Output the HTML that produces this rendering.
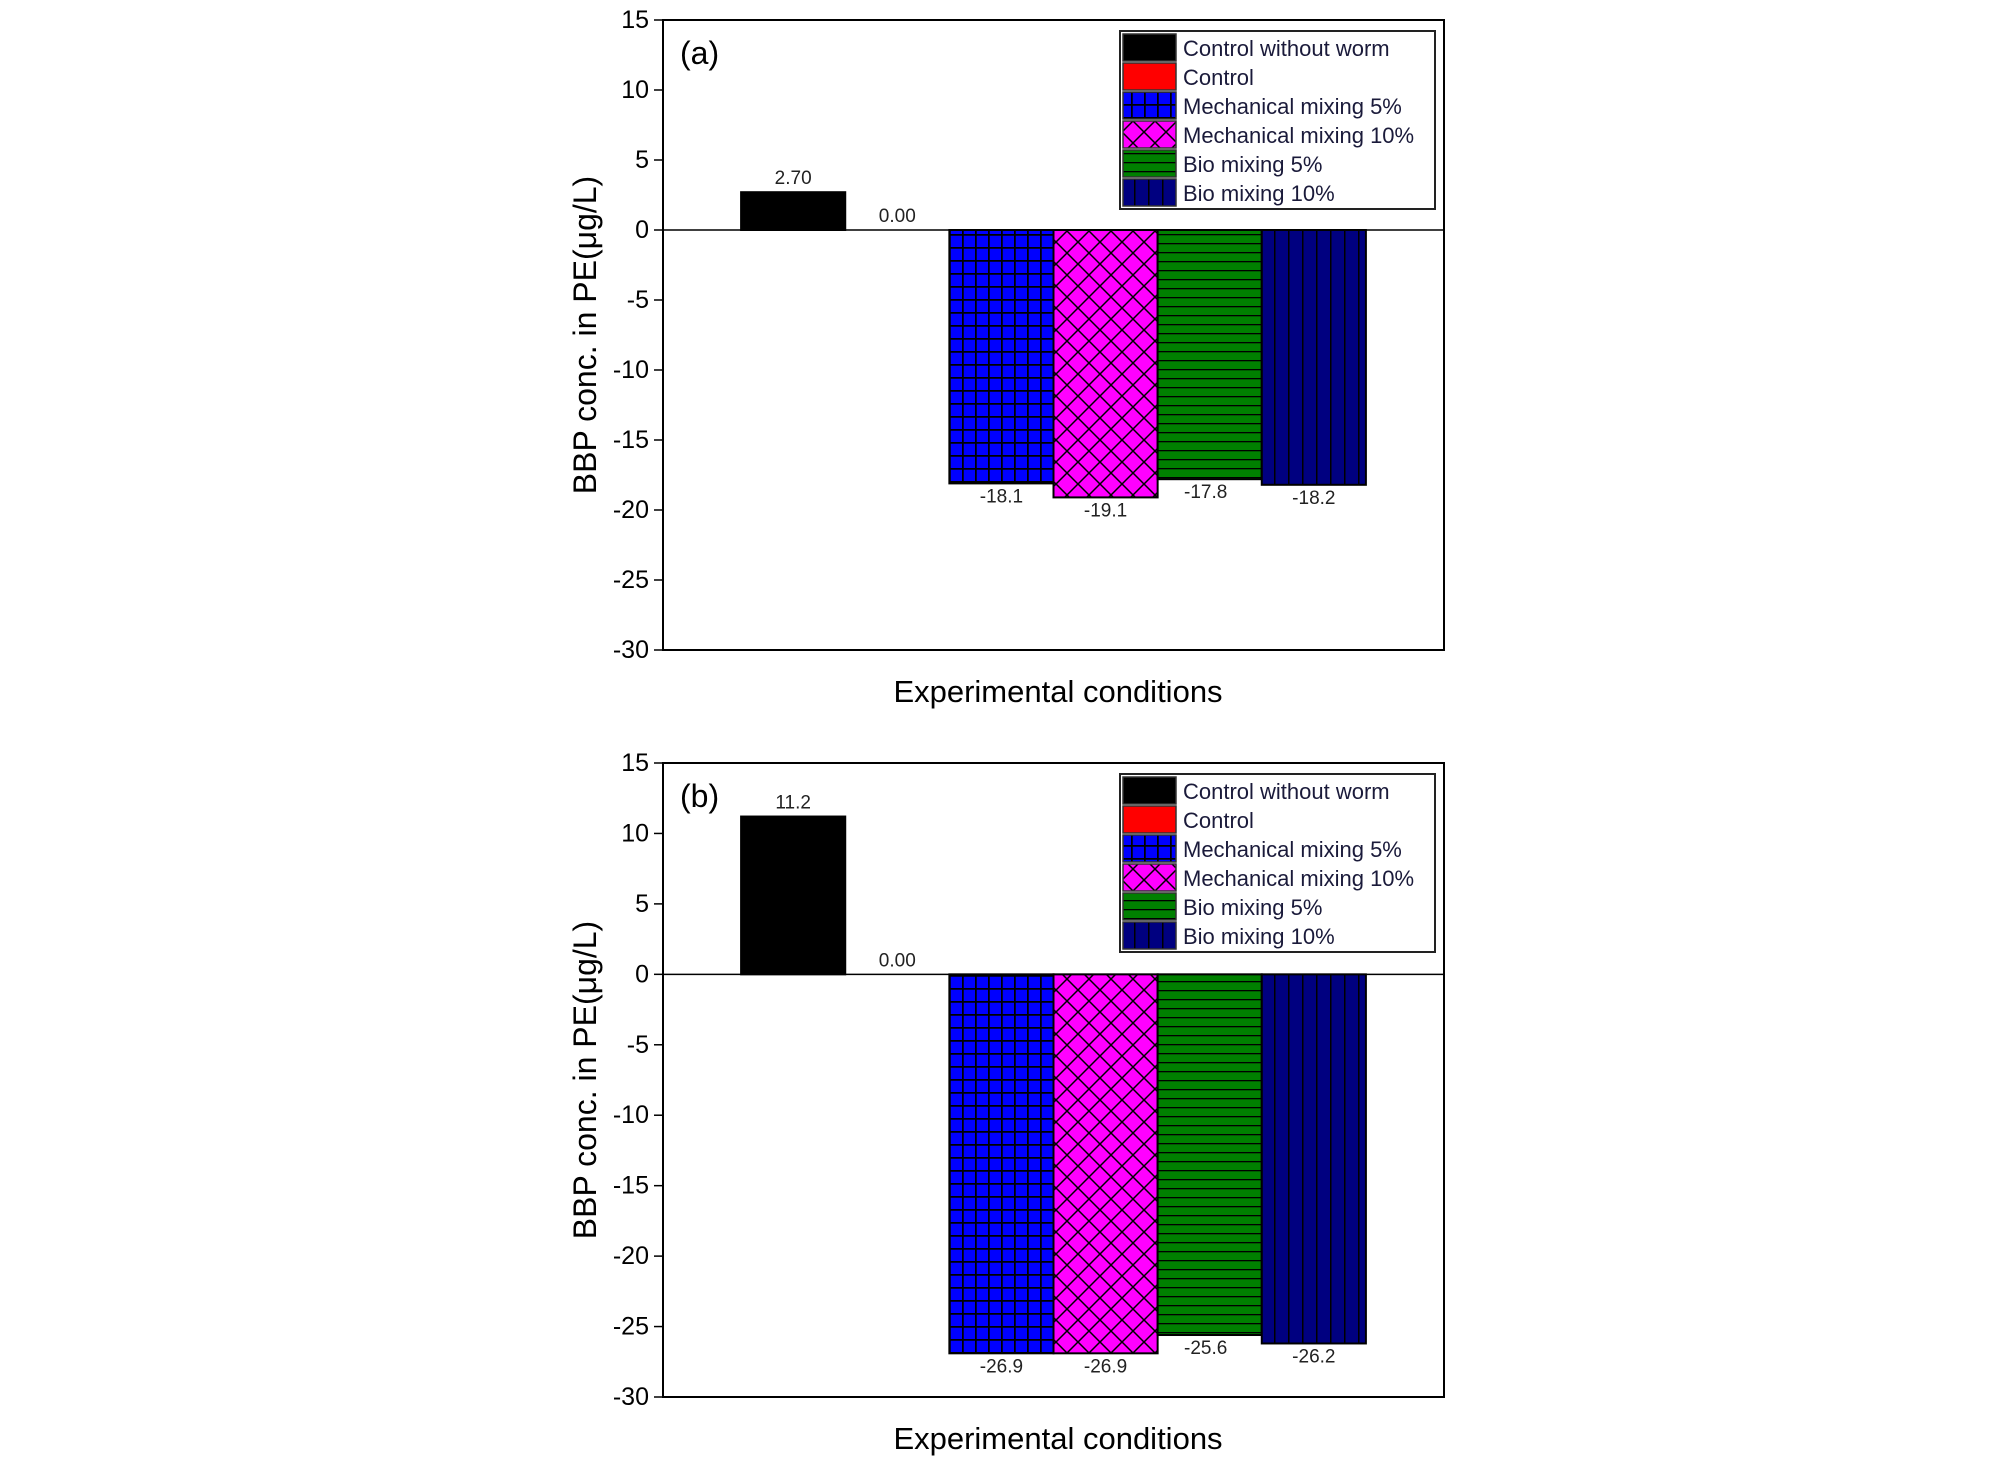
<!DOCTYPE html>
<html><head><meta charset="utf-8">
<style>
html,body{margin:0;padding:0;background:#fff;}
svg{display:block;font-family:"Liberation Sans",Arial,sans-serif;}
</style></head>
<body>
<svg id="fig" width="2008" height="1460" viewBox="0 0 2008 1460" xmlns="http://www.w3.org/2000/svg">
<defs>
<pattern id="p-grid" patternUnits="userSpaceOnUse" width="13" height="13">
<rect width="13" height="13" fill="#0000ff"/>
<path d="M0 0H13M0 0V13" stroke="#000" stroke-width="3.5"/>
</pattern>
<pattern id="p-cross" patternUnits="userSpaceOnUse" width="22" height="22">
<rect width="22" height="22" fill="#ff00ff"/>
<path d="M0 0L22 22M22 0L0 22" stroke="#000" stroke-width="1.5"/>
</pattern>
<pattern id="p-horiz" patternUnits="userSpaceOnUse" width="10" height="9">
<rect width="10" height="9" fill="#008000"/>
<path d="M0 0.5H10" stroke="#000" stroke-width="1.6"/>
</pattern>
<pattern id="p-vert" patternUnits="userSpaceOnUse" width="14" height="10">
<rect width="14" height="10" fill="#000080"/>
<path d="M0.5 0V10" stroke="#000" stroke-width="2"/>
</pattern>
</defs>
</svg>
<script>
const categories = ["Control without worm","Control","Mechanical mixing 5%","Mechanical mixing 10%","Bio mixing 5%","Bio mixing 10%"];
const valuesA = [2.70, 0.00, -18.1, -19.1, -17.8, -18.2];
const valuesB = [11.2, 0.00, -26.9, -26.9, -25.6, -26.2];
const labelsA = ["2.70","0.00","-18.1","-19.1","-17.8","-18.2"];
const labelsB = ["11.2","0.00","-26.9","-26.9","-25.6","-26.2"];
const yTicks = [15,10,5,0,-5,-10,-15,-20,-25,-30];
const fills = ["#000","#ff0000","url(#p-grid)","url(#p-cross)","url(#p-horiz)","url(#p-vert)"];

const NS="http://www.w3.org/2000/svg";
const svg=document.getElementById('fig');
function mk(tag,attrs,parent){const e=document.createElementNS(NS,tag);for(const k in attrs)e.setAttribute(k,attrs[k]);(parent||svg).appendChild(e);return e;}

function panel(id,top,bottom,values,labels,tag){
  const L=663,R=1444;
  const g=mk('g',{});
  
  
  const y=v=>bottom-(v+30)/45*(bottom-top);
  const slot=(R-L)/7.5;
  const cx=i=>L+(i+1.25)*slot;
  yTicks.forEach(t=>{
    const ty=y(t);
    const ln=mk('line',{x1:L-9,x2:L,y1:ty,y2:ty,stroke:'#000','stroke-width':1.5},g);
    
    
    const tx=mk('text',{x:L-14,y:ty+8,'text-anchor':'end','font-size':25,fill:'#000'},g);
    tx.textContent=t;
    
    
  });
  values.forEach((v,i)=>{
    if(v===0)return;
    const y0=y(0),y1=y(v);
    const r=mk('rect',{x:cx(i)-slot/2,y:Math.min(y0,y1),width:slot,height:Math.abs(y1-y0),fill:fills[i],stroke:'#000','stroke-width':2},g);
    
    
  });
  values.forEach((v,i)=>{
    const ly = v>=0 ? y(v)-8 : y(v)+19;
    const tx=mk('text',{x:cx(i)+(i===4?-4:0),y:ly,'text-anchor':'middle','font-size':19,fill:'#222'},g);
    tx.textContent=labels[i];
    
    
  });
  const z=mk('line',{x1:L,x2:R,y1:y(0),y2:y(0),stroke:'#000','stroke-width':1.5},g);
  
  
  const f=mk('rect',{x:L,y:top,width:R-L,height:bottom-top,fill:'none',stroke:'#000','stroke-width':2},g);
  
  
  const pt=mk('text',{x:680,y:top+44,'font-size':32,fill:'#000'},g);
  pt.textContent=tag;
  
  
  const cy=(top+bottom)/2;
  const yt=mk('text',{x:0,y:0,'font-size':32,'text-anchor':'middle',fill:'#000',transform:`translate(596,${cy}) rotate(-90)`},g);
  yt.textContent='BBP conc. in PE(\u03bcg/L)';
  
  
  const xt=mk('text',{x:1058,y:bottom+52,'font-size':31,'text-anchor':'middle',fill:'#000'},g);
  xt.textContent='Experimental conditions';
  
  
  const lg=mk('g',{},g);
  
  
  const lt=top+11;
  mk('rect',{x:1120,y:lt,width:315,height:178,fill:'#fff',stroke:'#222','stroke-width':2},lg);
  categories.forEach((c,i)=>{
    const ry=lt+3+i*29;
    const sw=mk('rect',{x:1123,y:ry,width:53,height:27,fill:fills[i],stroke:'#333','stroke-width':1.5},lg);
    
    
    const tx=mk('text',{x:1183,y:ry+22,'font-size':22,fill:'#1a1a3a'},lg);
    tx.textContent=c;
    
    
  });
}
panel('a',20,650,valuesA,labelsA,'(a)');
panel('b',763,1397,valuesB,labelsB,'(b)');
</script>
</body></html>
